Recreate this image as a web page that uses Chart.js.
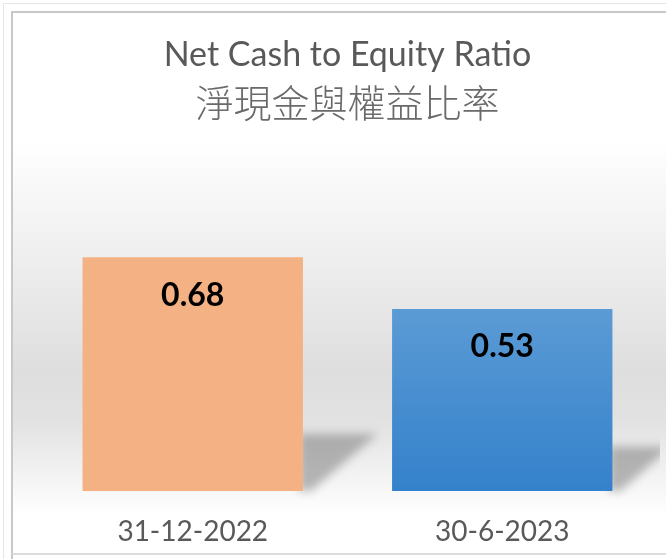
<!DOCTYPE html>
<html>
<head>
<meta charset="utf-8">
<script src="https://cdn.jsdelivr.net/npm/chart.js@4/dist/chart.umd.min.js"></script>
<style>
  html, body { margin: 0; padding: 0; background: #fff; }
  #wrap { width: 666px; height: 559px; position: relative; }
</style>
</head>
<body>
<div id="wrap"><canvas id="ratioChart" width="666" height="559"></canvas></div>
<script>
const periods = ['31-12-2022', '30-6-2023']
const ratios = [0.68, 0.53]
const titleEn = 'Net Cash to Equity Ratio'
const titleZh = '淨現金與權益比率'

// frame + grey band behind the plot
const backdrop = {
  id: 'backdrop',
  beforeDraw (chart) {
    const ctx = chart.ctx
    const w = chart.width
    const h = chart.height
    ctx.save()
    ctx.fillStyle = '#ffffff'
    ctx.fillRect(0, 0, w, h)
    const g = ctx.createLinearGradient(0, 140, 0, 515)
    g.addColorStop(0, '#ffffff')
    g.addColorStop(0.62, '#dedede')
    g.addColorStop(0.75, '#e2e2e2')
    g.addColorStop(1, '#ffffff')
    ctx.fillStyle = g
    ctx.fillRect(13, 140, w - 13, 375)
    ctx.strokeStyle = '#e6e6e6'
    ctx.lineWidth = 1
    ctx.beginPath()
    ctx.moveTo(3.5, 559); ctx.lineTo(3.5, 3.5); ctx.lineTo(w, 3.5)
    ctx.stroke()
    ctx.strokeStyle = '#c8c8c8'
    ctx.lineWidth = 2
    ctx.beginPath()
    ctx.moveTo(12, 559); ctx.lineTo(12, 12); ctx.lineTo(w, 12)
    ctx.stroke()
    ctx.strokeStyle = '#dcdcdc'
    ctx.beginPath()
    ctx.moveTo(12, 554); ctx.lineTo(w, 554)
    ctx.stroke()
    ctx.restore()
  }
}

// soft cast shadow to the right of each bar
const barShadow = {
  id: 'barShadow',
  beforeDatasetsDraw (chart) {
    const ctx = chart.ctx
    const meta = chart.getDatasetMeta(0)
    ctx.save()
    ctx.beginPath()
    ctx.rect(0, 0, 660, chart.height)
    ctx.clip()
    ctx.filter = 'blur(5px)'
    ctx.fillStyle = 'rgba(90,90,90,0.42)'
    meta.data.forEach(bar => {
      const hgt = bar.base - bar.y
      const right = bar.x + bar.width / 2
      const top = bar.base - hgt * 0.245
      const reach = hgt * 0.32
      ctx.beginPath()
      ctx.moveTo(right - 4, top)
      ctx.lineTo(right + reach, top)
      ctx.lineTo(right + 8, bar.base)
      ctx.lineTo(right - 4, bar.base)
      ctx.closePath()
      ctx.fill()
    })
    ctx.restore()
  }
}

// value labels inside the bars
const valueLabels = {
  id: 'valueLabels',
  afterDatasetsDraw (chart) {
    const ctx = chart.ctx
    const meta = chart.getDatasetMeta(0)
    ctx.save()
    ctx.font = 'bold 32px Lato, "Liberation Sans", sans-serif'
    ctx.fillStyle = '#000000'
    ctx.textAlign = 'center'
    ctx.textBaseline = 'middle'
    meta.data.forEach((bar, i) => {
      ctx.fillText(ratios[i].toFixed(2), bar.x, bar.y + 38)
    })
    ctx.restore()
  }
}

const ctx = document.getElementById('ratioChart').getContext('2d')
const blueFill = ctx.createLinearGradient(0, 309, 0, 491)
blueFill.addColorStop(0, '#5b9bd5')
blueFill.addColorStop(1, '#3481cb')

new Chart(ctx, {
  type: 'bar',
  data: {
    labels: periods,
    datasets: [{
      data: ratios,
      backgroundColor: ['#f4b183', blueFill],
      borderWidth: 0,
      barPercentage: 0.712,
      categoryPercentage: 1
    }]
  },
  options: {
    responsive: false,
    animation: false,
    layout: { padding: { left: 38, right: 9, top: 0, bottom: 0 } },
    scales: {
      x: {
        grid: { display: false },
        border: { display: false },
        afterFit (scale) { scale.height = 68 },
        ticks: {
          color: '#595959',
          font: { size: 28, family: 'Lato, "Liberation Sans", sans-serif' },
          padding: 16
        }
      },
      y: {
        display: false,
        min: 0,
        max: 1
      }
    },
    plugins: {
      legend: { display: false },
      tooltip: { enabled: false },
      title: {
        display: true,
        text: titleEn,
        color: '#595959',
        font: { size: 34, family: 'Lato, sans-serif', weight: 'normal', lineHeight: 1.2 },
        padding: { top: 35, bottom: 4 }
      },
      subtitle: {
        display: true,
        text: titleZh,
        color: '#6a6a6a',
        font: { size: 38, family: '"Noto Sans CJK TC", sans-serif', weight: 300, lineHeight: 1.2 },
        padding: { top: 0, bottom: 22 }
      }
    }
  },
  plugins: [backdrop, barShadow, valueLabels]
})
</script>
</body>
</html>
